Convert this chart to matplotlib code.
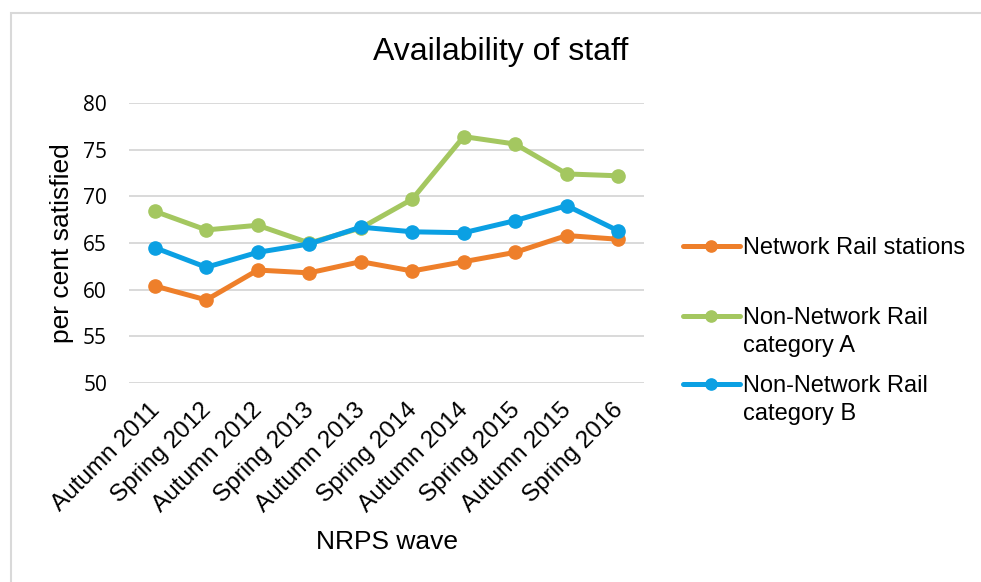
import matplotlib
matplotlib.use("Agg")
import matplotlib.pyplot as plt
from matplotlib.lines import Line2D
from matplotlib.patches import Rectangle
from matplotlib.transforms import ScaledTranslation

categories = ["Autumn 2011", "Spring 2012", "Autumn 2012", "Spring 2013", "Autumn 2013",
              "Spring 2014", "Autumn 2014", "Spring 2015", "Autumn 2015", "Spring 2016"]
network_rail = [60.4, 58.9, 62.1, 61.8, 63.0, 62.0, 63.0, 64.0, 65.8, 65.4]
non_nr_cat_a = [68.4, 66.4, 66.9, 65.0, 66.6, 69.7, 76.4, 75.6, 72.4, 72.2]
non_nr_cat_b = [64.5, 62.4, 64.0, 64.9, 66.7, 66.2, 66.1, 67.4, 69.0, 66.3]
y_ticks = [50, 55, 60, 65, 70, 75, 80]

ORANGE = "#EE7F2A"
GREEN = "#A4C760"
BLUE = "#0BA0E3"
GRID = "#D9D9D9"
SANS = ["Liberation Sans", "DejaVu Sans"]

W, H = 981, 582
fig = plt.figure(figsize=(W / 100, H / 100), dpi=100)

# outer chart border
fig.add_artist(Rectangle((11 / W, -0.05), 1.2, 1 - 13 / H + 0.05, transform=fig.transFigure,
                         fill=False, edgecolor=GRID, linewidth=1.5))

ax = fig.add_axes([129 / W, 1 - 383 / H, 515 / W, 280 / H])

lw = 3.6
ms = 9.5
l1, = ax.plot(categories, network_rail, color=ORANGE, lw=lw, marker="o", ms=ms, zorder=3,
              solid_capstyle="round", solid_joinstyle="round")
l2, = ax.plot(categories, non_nr_cat_a, color=GREEN, lw=lw, marker="o", ms=ms, zorder=2,
              solid_capstyle="round", solid_joinstyle="round")
l3, = ax.plot(categories, non_nr_cat_b, color=BLUE, lw=lw, marker="o", ms=ms, zorder=4,
              solid_capstyle="round", solid_joinstyle="round")

ax.set_xlim(-0.5, len(categories) - 0.5)
ax.set_ylim(50, 80)
ax.set_yticks(y_ticks)
ax.yaxis.grid(True, color=GRID, linewidth=1.4)
ax.set_axisbelow(True)
for s in ax.spines.values():
    s.set_visible(False)
ax.tick_params(axis="both", length=0)
ax.tick_params(axis="y", pad=15.8)
ax.tick_params(axis="x", pad=11.5)
for t in ax.get_yticklabels():
    t.set_fontfamily(["Open Sans", "DejaVu Sans"])
    t.set_fontsize(15)
shift = ScaledTranslation(-6.4 / 100, 0, fig.dpi_scale_trans)
for t in ax.get_xticklabels():
    t.set_fontfamily(SANS)
    t.set_fontsize(17.5)
    t.set_rotation(45)
    t.set_ha("right")
    t.set_rotation_mode("anchor")
    t.set_transform(t.get_transform() + shift)

ax.set_xlabel("NRPS wave", fontsize=19, family=SANS)
ax.xaxis.set_label_coords(0.5, (383 - 542) / 280)
ax.xaxis.label.set_va("center")
ax.set_ylabel("per cent satisfied", fontsize=19, family=SANS)
ax.yaxis.set_label_coords((62 - 129) / 515, 0.5)
ax.yaxis.label.set_va("center")

fig.text(501 / W, 1 - 52 / H, "Availability of staff", fontsize=23, family=SANS,
         ha="center", va="center")

blank = Line2D([], [], color="none")
leg_kw = dict(frameon=False, borderpad=0, borderaxespad=0, handlelength=2.4,
              handletextpad=0.15, labelspacing=0.22, prop={"family": SANS, "size": 17},
              bbox_transform=fig.transFigure, loc="center left", markerscale=0.85)
leg1 = fig.legend([l1], ["Network Rail stations"], bbox_to_anchor=(683 / W, 1 - 248 / H), **leg_kw)
leg2 = fig.legend([l2, blank], ["Non-Network Rail", "category A"],
                  bbox_to_anchor=(683 / W, 1 - 332 / H), **leg_kw)
leg3 = fig.legend([l3, blank], ["Non-Network Rail", "category B"],
                  bbox_to_anchor=(683 / W, 1 - 400 / H), **leg_kw)

fig.savefig("out.png", dpi=100)
